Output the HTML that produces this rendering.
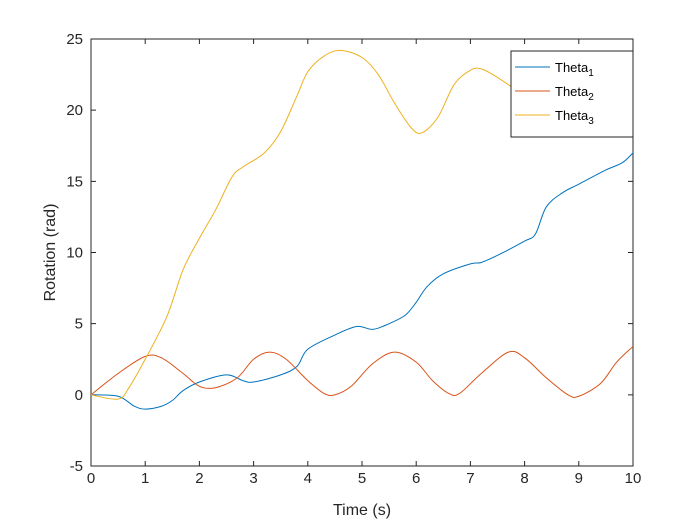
<!DOCTYPE html>
<html><head><meta charset="utf-8"><style>
body{margin:0;background:#fff}
svg{display:block;font-family:"Liberation Sans",Arial,sans-serif}
</style></head><body>
<svg id="chart" width="700" height="525" viewBox="0 0 700 525">
<rect width="700" height="525" fill="#fff"/>
<g id="plot"></g>
</svg>
<script>
const xTicks=[0,1,2,3,4,5,6,7,8,9,10];
const yTicks=[-5,0,5,10,15,20,25];
const t1x=[0,0.5,0.8,1,1.3,1.5,1.7,2,2.5,2.8,3,3.5,3.8,4,4.5,4.9,5.2,5.5,5.8,6,6.2,6.5,7,7.2,7.5,8,8.2,8.4,8.7,9,9.5,9.8,10];
const t1y=[0,-0.1,-0.8,-1.0,-0.8,-0.4,0.3,0.9,1.4,1.0,0.9,1.4,2.0,3.2,4.2,4.8,4.6,5.0,5.6,6.5,7.6,8.5,9.2,9.3,9.8,10.8,11.3,13.2,14.2,14.8,15.8,16.3,17.0];
const t2x=[0,0.5,1,1.3,1.7,2,2.3,2.7,3,3.3,3.6,4,4.3,4.5,4.8,5.2,5.6,6,6.3,6.6,6.8,7.2,7.7,8,8.4,8.8,9,9.4,9.7,10];
const t2y=[0,1.5,2.7,2.6,1.5,0.6,0.5,1.2,2.5,3.0,2.5,1.0,0.1,0.0,0.6,2.2,3.0,2.3,1.0,0.1,0.1,1.5,3.0,2.6,1.2,0.0,-0.1,0.8,2.3,3.4];
const t3x=[0,0.5,0.7,1,1.4,1.7,2,2.3,2.6,2.8,3.2,3.5,3.8,4,4.3,4.6,5,5.3,5.6,5.9,6.1,6.4,6.7,7,7.2,7.5,8,8.3,8.6,9,9.5,10];
const t3y=[0,-0.3,0.5,2.5,5.5,8.8,11.0,13.0,15.3,16.0,17.0,18.5,21.0,22.7,23.8,24.2,23.7,22.5,20.5,18.8,18.4,19.5,21.8,22.8,22.9,22.3,21.0,20.3,20.7,20.6,20.3,19.5];
const L=91,R=633,T=39,B=466,xmin=0,xmax=10,ymin=-5,ymax=25;
const sx=v=>L+(v-xmin)/(xmax-xmin)*(R-L);
const sy=v=>B-(v-ymin)/(ymax-ymin)*(B-T);
const NS="http://www.w3.org/2000/svg";
const g=document.getElementById('plot');
function mk(tag,attrs,parent){const e=document.createElementNS(NS,tag);for(const k in attrs)e.setAttribute(k,attrs[k]);(parent||g).appendChild(e);return e;}
const box=mk('rect',{x:L,y:T,width:R-L,height:B-T,fill:'#fff',stroke:'#262626','stroke-width':1});


function smooth(xs,ys){let d='M'+sx(xs[0])+','+sy(ys[0]);for(let i=0;i<xs.length-1;i++){const p0=i>0?i-1:i,p3=i+2<xs.length?i+2:i+1;const x1=sx(xs[i])+(sx(xs[i+1])-sx(xs[p0]))/6,y1=sy(ys[i])+(sy(ys[i+1])-sy(ys[p0]))/6;const x2=sx(xs[i+1])-(sx(xs[p3])-sx(xs[i]))/6,y2=sy(ys[i+1])-(sy(ys[p3])-sy(ys[i]))/6;d+=' C'+x1+','+y1+' '+x2+','+y2+' '+sx(xs[i+1])+','+sy(ys[i+1]);}return d;}
xTicks.forEach(v=>{
 const tk=mk('path',{d:`M${sx(v)},${B}v-5M${sx(v)},${T}v5`,stroke:'#262626'});
 
 
 const tx=mk('text',{x:sx(v),y:B+17,'text-anchor':'middle','font-size':15,fill:'#262626'});tx.textContent=v;
 
 
});
yTicks.forEach(v=>{
 const tk=mk('path',{d:`M${L},${sy(v)}h5M${R},${sy(v)}h-5`,stroke:'#262626'});
 
 
 const tx=mk('text',{x:L-8,y:sy(v)+5,'text-anchor':'end','font-size':15,fill:'#262626'});tx.textContent=v;
 
 
});
const series=[[t1x,t1y,'#0072BD','theta-1-line'],[t2x,t2y,'#D95319','theta-2-line'],[t3x,t3y,'#EDB120','theta-3-line']];
series.forEach(s=>{
 const p=mk('path',{d:smooth(s[0],s[1]),fill:'none',stroke:s[2],'stroke-width':1});
 
 
});
const xl=mk('text',{x:(L+R)/2,y:515,'text-anchor':'middle','font-size':16,fill:'#262626'});xl.textContent='Time (s)';


const yl=mk('text',{x:0,y:0,transform:`translate(55,${(T+B)/2}) rotate(-90)`,'text-anchor':'middle','font-size':16,fill:'#262626'});yl.textContent='Rotation (rad)';


const lg=mk('g',{});


mk('rect',{x:511,y:51,width:122,height:86,fill:'#fff',stroke:'#262626'},lg);
const names=['Theta','Theta','Theta'],subs=['1','2','3'];
series.forEach((s,i)=>{
 const y=67+i*24;
 const ln=mk('line',{x1:515,x2:550,y1:y,y2:y,stroke:s[2]},lg);
 
 
 const tx=mk('text',{x:555,y:y+5,'font-size':13,fill:'#000'},lg);
 
 
 tx.appendChild(document.createTextNode(names[i]));
 const ts=document.createElementNS(NS,'tspan');ts.setAttribute('dy','4');ts.setAttribute('font-size','10');ts.textContent=subs[i];tx.appendChild(ts);
});
</script>
</body></html>
